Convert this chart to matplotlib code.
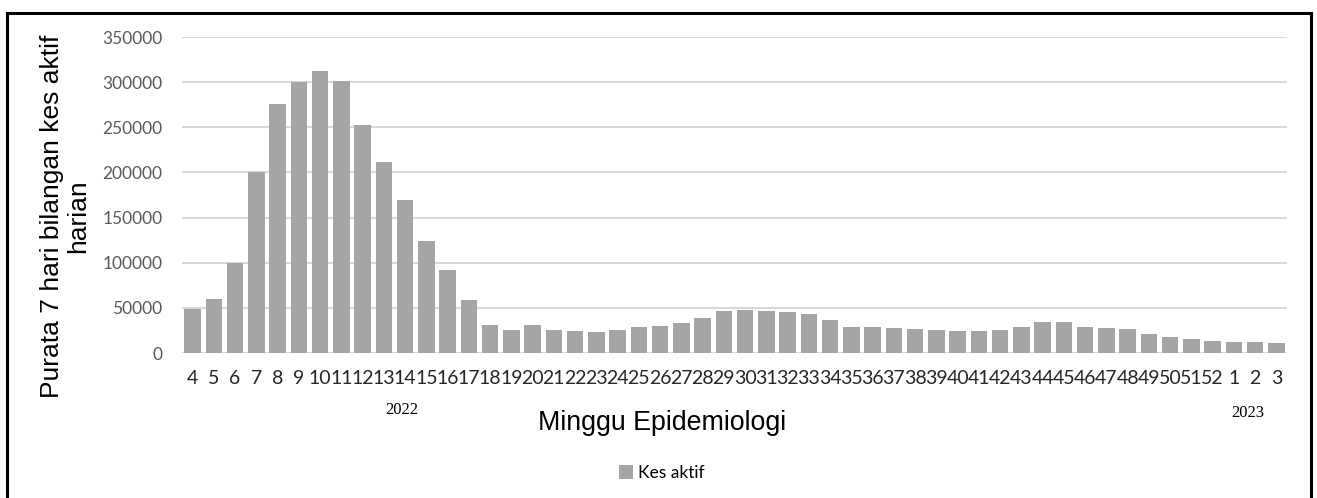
import matplotlib.pyplot as plt
from matplotlib.lines import Line2D

# minggu epidemiologi: 4..52 (2022) lalu 1..3 (2023)
weeks = [str(w) for w in range(4, 53)] + ["1", "2", "3"]
kes_aktif = [
    49000, 60000, 100000, 201000, 276000, 300000, 312000, 301000, 253000, 212000,
    169000, 124000, 92000, 59000, 31000, 26000, 31000, 26000, 24000, 23000,
    25000, 29000, 30000, 33500, 39000, 46500, 47500, 46500, 45000, 43000,
    37000, 29000, 29000, 27500, 26500, 25000, 24000, 24000, 25000, 29000,
    34500, 34500, 29000, 27500, 26500, 21500, 18000, 15500, 13500, 12500,
    12500, 11000,
]
yticks = list(range(0, 350001, 50000))

W, H = 1317, 498
fig = plt.figure(figsize=(W / 100, H / 100), dpi=100)
ax = fig.add_axes([182 / W, 1 - 353 / H, (1287 - 182) / W, (353 - 37) / H])

x = range(len(weeks))
ax.bar(x, kes_aktif, width=0.77, color="#a5a5a5", label="Kes aktif", zorder=3)

ax.set_xlim(-0.5, len(weeks) - 0.5)
ax.set_ylim(0, 350000)
ax.set_yticks(yticks)
ax.set_yticklabels([str(v) for v in yticks], family="Lato", fontsize=12.5, color="#595959")
ax.set_xticks(list(x))
ax.set_xticklabels(weeks, family="Lato", fontsize=14, color="#262626")
ax.tick_params(axis="both", length=0)
ax.tick_params(axis="y", pad=14)
ax.tick_params(axis="x", pad=12)
ax.grid(axis="y", color="#d9d9d9", linewidth=1.5, zorder=0)
for s in ax.spines.values():
    s.set_visible(False)

ax.set_ylabel("Purata 7 hari bilangan kes aktif\nharian", family="Liberation Sans",
              fontsize=19, linespacing=1.1)
ax.yaxis.set_label_coords(-0.083, 0.434)

fig.text(662 / W, 1 - 423 / H, "Minggu Epidemiologi", family="Liberation Sans",
         fontsize=19.3, ha="center", va="center")
fig.text(402 / W, 1 - 410 / H, "2022", family="Liberation Serif", fontsize=12,
         ha="center", va="center")
fig.text(1248 / W, 1 - 413 / H, "2023", family="Liberation Serif", fontsize=12,
         ha="center", va="center")

leg = fig.legend(loc="center", bbox_to_anchor=(662 / W, 1 - 473 / H), frameon=False,
                 prop={"family": "Lato", "size": 12.5}, handlelength=0.8,
                 handleheight=0.8, handletextpad=0.3)

# bingkai hitam di sekeliling carta (tiada garis bawah)
l, r, t = 7 / W, 1311 / W, 1 - 13 / H
for xs, ys in [([l, l], [0, t]), ([l, r], [t, t]), ([r, r], [t, 0])]:
    fig.add_artist(Line2D(xs, ys, color="black", linewidth=2.2, transform=fig.transFigure))

fig.savefig("out.png", dpi=100)
